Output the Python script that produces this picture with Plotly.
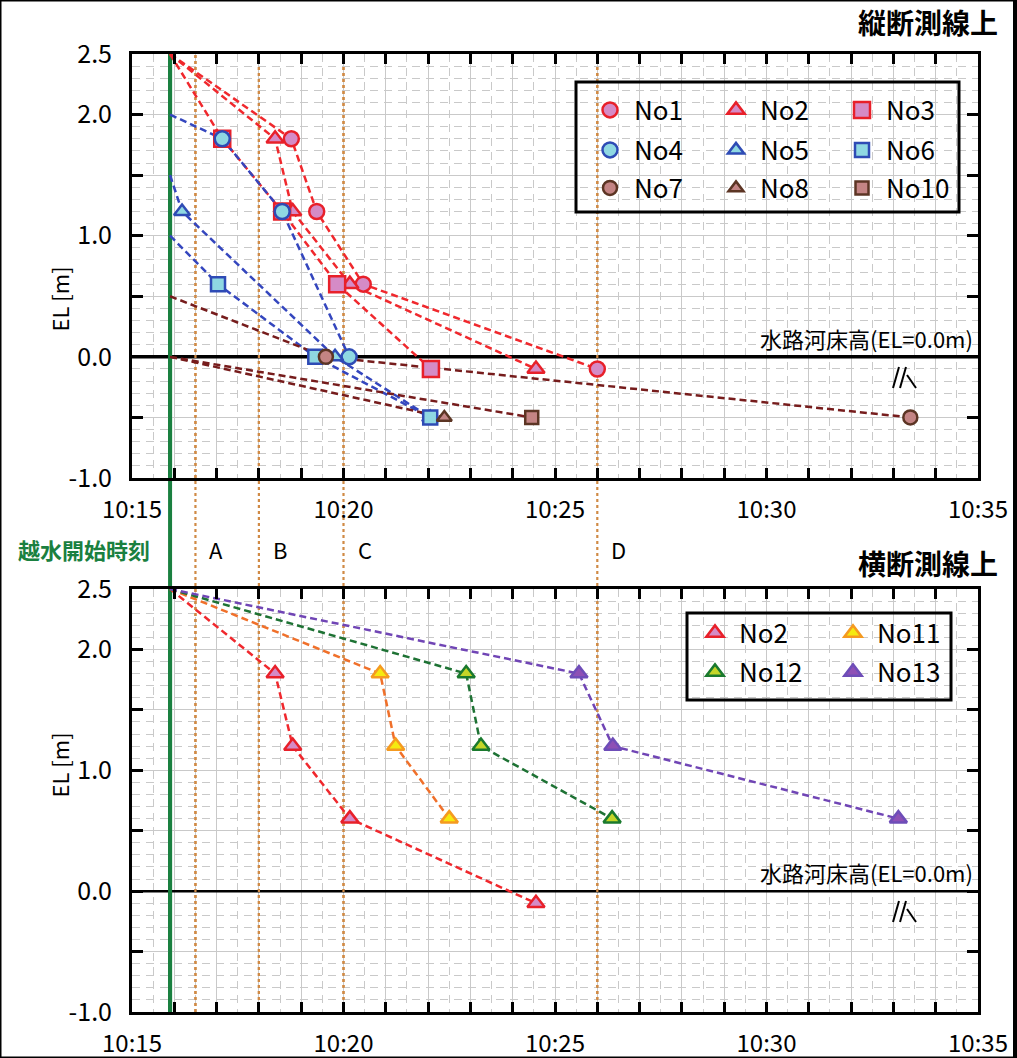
import plotly.graph_objects as go

W, H = 1017, 1058
DAY = "2000-01-01 "

# ---------------- data ----------------
overflow_start = "10:15:54"          # 越水開始時刻
ref_labels = ["A", "B", "C", "D"]
ref_times = ["10:16:30", "10:18:00", "10:20:00", "10:26:00"]

x_ticks = ["10:%02d" % m for m in range(15, 36)]
x_ticktext = [t if int(t[-2:]) % 5 == 0 else "" for t in x_ticks]
y_ticks = [-1.0, -0.5, 0.0, 0.5, 1.0, 1.5, 2.0, 2.5]
y_ticktext = ["-1.0", "", "0.0", "", "1.0", "", "2.0", "2.5"]

# 縦断測線上 (top panel)
no1_time = ["10:15:54", "10:18:46", "10:19:22", "10:20:28", "10:26:00"]
no1_el = [2.5, 1.8, 1.2, 0.6, -0.1]
no2_time = ["10:15:54", "10:18:23", "10:18:48", "10:20:09", "10:24:33"]
no2_el = [2.5, 1.8, 1.2, 0.6, -0.1]
no3_time = ["10:15:54", "10:17:08", "10:18:33", "10:19:51", "10:22:04"]
no3_el = [2.5, 1.8, 1.2, 0.6, -0.1]
no4_time = ["10:15:54", "10:17:08", "10:18:33", "10:20:08"]
no4_el = [2.0, 1.8, 1.2, 0.0]
no5_time = ["10:15:54", "10:16:11", "10:19:48", "10:22:03"]
no5_el = [1.5, 1.2, 0.0, -0.5]
no6_time = ["10:15:54", "10:17:02", "10:19:20", "10:22:03"]
no6_el = [1.0, 0.6, 0.0, -0.5]
no7_time = ["10:15:54", "10:19:35", "10:33:24"]
no7_el = [0.5, 0.0, -0.5]
no8_time = ["10:15:54", "10:22:23"]
no8_el = [0.0, -0.5]
no10_time = ["10:15:54", "10:24:27"]
no10_el = [0.0, -0.5]

# 横断測線上 (bottom panel)
no11_time = ["10:15:54", "10:20:52", "10:21:14", "10:22:30"]
no11_el = [2.5, 1.8, 1.2, 0.6]
no12_time = ["10:15:54", "10:22:54", "10:23:15", "10:26:21"]
no12_el = [2.5, 1.8, 1.2, 0.6]
no13_time = ["10:15:54", "10:25:34", "10:26:22", "10:33:07"]
no13_el = [2.5, 1.8, 1.2, 0.6]


def ts(lst):
    return [DAY + t for t in lst]


def px(x):
    return x / W


def py(y):
    return 1 - y / H


# ---------------- styles ----------------
RED = dict(line="#F0282D", fill="#D58BC6", edge="#E8202A")
BLUE = dict(line="#3446BE", fill="#8FD8E2", edge="#2E4BB5")
BROWN = dict(line="#761C1C", fill="#C48484", edge="#5C3524")
ORANGE = dict(line="#F0702A", fill="#F5EA10", edge="#F59A20")
GREEN = dict(line="#1E7234", fill="#C4D628", edge="#1A7A2E")
PURPLE = dict(line="#7045B5", fill="#8E50B5", edge="#6E4DB8")

series = [
    # name, time, el, symbol, colours, size, panel, legend
    ("No1", no1_time, no1_el, "circle", RED, 15, 1, "legend"),
    ("No2", no2_time, no2_el, "triangle-up", RED, 15, 1, "legend"),
    ("No3", no3_time, no3_el, "square", RED, 16, 1, "legend"),
    ("No4", no4_time, no4_el, "circle", BLUE, 15, 1, "legend2"),
    ("No5", no5_time, no5_el, "triangle-up", BLUE, 14, 1, "legend2"),
    ("No6", no6_time, no6_el, "square", BLUE, 14, 1, "legend2"),
    ("No7", no7_time, no7_el, "circle", BROWN, 14, 1, "legend3"),
    ("No8", no8_time, no8_el, "triangle-up", BROWN, 13, 1, "legend3"),
    ("No10", no10_time, no10_el, "square", BROWN, 13, 1, "legend3"),
    ("No2", no2_time, no2_el, "triangle-up", RED, 15, 2, "legend4"),
    ("No11", no11_time, no11_el, "triangle-up", ORANGE, 15, 2, "legend4"),
    ("No12", no12_time, no12_el, "triangle-up", GREEN, 15, 2, "legend5"),
    ("No13", no13_time, no13_el, "triangle-up", PURPLE, 15, 2, "legend5"),
]

FONT = "Noto Sans CJK JP"
fig = go.Figure()

# dashed lines first
for name, t, el, sym, c, size, panel, lg in series:
    fig.add_trace(go.Scatter(
        x=ts(t), y=el, mode="lines", showlegend=False, hoverinfo="skip",
        line=dict(color=c["line"], width=2.5, dash="7px,4px"),
        xaxis="x" if panel == 1 else "x2", yaxis="y" if panel == 1 else "y2"))

# markers (first point = overflow start, no marker)
for name, t, el, sym, c, size, panel, lg in series:
    fig.add_trace(go.Scatter(
        x=ts(t[1:]), y=el[1:], mode="markers", name=name, legend=lg,
        marker=dict(symbol=sym, size=size, color=c["fill"],
                    line=dict(color=c["edge"], width=2.5)),
        xaxis="x" if panel == 1 else "x2", yaxis="y" if panel == 1 else "y2"))

# ---------------- axes ----------------
XDOM = [px(132), px(978)]
TOP_DOM = [py(478), py(54)]
BOT_DOM = [py(1012), py(589)]
X_RANGE = [DAY + "10:15:00", DAY + "10:35:00"]
Y_RANGE = [-1.0, 2.5]

grid_col = "#C9C9C9"


def xaxis(anchor):
    return dict(
        domain=XDOM, anchor=anchor, type="date", automargin=False,
        range=X_RANGE,
        tickmode="array", tickvals=ts(x_ticks), ticktext=x_ticktext,
        ticks="inside", ticklen=10, tickwidth=3, tickcolor="black",
        showline=True, linecolor="black", linewidth=3, mirror="ticks",
        showgrid=True, gridcolor=grid_col, gridwidth=1,
        minor=dict(dtick=30000, tick0=DAY + "10:15:00", showgrid=True,
                   gridcolor=grid_col, griddash="8px,6px", gridwidth=1),
        tickfont=dict(family=FONT, size=24, color="black"),
        ticklabelstandoff=8, zeroline=False, fixedrange=True)


def yaxis(anchor, dom):
    return dict(
        domain=dom, anchor=anchor, range=Y_RANGE, automargin=False,
        tickmode="array", tickvals=y_ticks, ticktext=y_ticktext,
        ticks="inside", ticklen=11, tickwidth=3, tickcolor="black",
        showline=True, linecolor="black", linewidth=3, mirror="ticks",
        showgrid=True, gridcolor=grid_col, gridwidth=1,
        minor=dict(dtick=0.1, tick0=0, showgrid=True, gridcolor=grid_col,
                   griddash="8px,6px", gridwidth=1),
        tickfont=dict(family=FONT, size=25, color="black"),
        ticklabelstandoff=12, zeroline=False, fixedrange=True)


DOT = dict(color="#D08A45", width=2.2, dash="dot")
GRN = dict(color="#1A8040", width=4)

shapes = []
# river-bed level line EL = 0.0 (above grid, below traces)
for xr, yr, w in (("x", "y", 3.5), ("x2", "y2", 2.5)):
    shapes.append(dict(type="line", xref=xr, yref=yr, x0=X_RANGE[0], x1=X_RANGE[1],
                       y0=0, y1=0, line=dict(color="black", width=w),
                       layer="between"))
# reference time lines A-D and overflow start: inside each panel (above grid)
for xr, yr in (("x", "y"), ("x2", "y2")):
    for t in ref_times:
        shapes.append(dict(type="line", xref=xr, yref=yr, x0=DAY + t, x1=DAY + t,
                           y0=Y_RANGE[0], y1=Y_RANGE[1], line=DOT, layer="between"))
    shapes.append(dict(type="line", xref=xr, yref=yr,
                       x0=DAY + overflow_start, x1=DAY + overflow_start,
                       y0=Y_RANGE[0], y1=Y_RANGE[1], line=GRN, layer="between"))
# ... and through the gap between the panels
for t in ref_times:
    shapes.append(dict(type="line", xref="x", yref="paper", x0=DAY + t, x1=DAY + t,
                       y0=py(1012), y1=py(54), line=DOT, layer="below"))
shapes.append(dict(type="line", xref="x", yref="paper",
                   x0=DAY + overflow_start, x1=DAY + overflow_start,
                   y0=py(1015), y1=py(54), line=GRN, layer="below"))
# legend boxes
shapes.append(dict(type="rect", xref="paper", yref="paper", x0=px(576), x1=px(959),
                   y0=py(212), y1=py(82), line=dict(color="black", width=3),
                   layer="above"))
shapes.append(dict(type="rect", xref="paper", yref="paper", x0=px(687), x1=px(951),
                   y0=py(700), y1=py(613), line=dict(color="black", width=3),
                   layer="above"))
# axis break marks
for yc in (378, 912):
    for (xa, ya, xb, yb) in ((899, yc - 11, 893, yc + 10), (906, yc - 11, 900, yc + 10),
                             (907, yc - 3, 916, yc + 10)):
        shapes.append(dict(type="line", xref="paper", yref="paper",
                           x0=px(xa), y0=py(ya), x1=px(xb), y1=py(yb),
                           line=dict(color="black", width=2), layer="above"))
# outer frame
shapes.append(dict(type="rect", xref="paper", yref="paper", x0=0, x1=1, y0=0, y1=1,
                   line=dict(color="black", width=3), layer="above"))
shapes.append(dict(type="line", xref="paper", yref="paper", x0=px(1015), x1=px(1015),
                   y0=0, y1=1, line=dict(color="black", width=4), layer="above"))

ann = []
ann.append(dict(text="縦断測線上", xref="paper", yref="paper", x=px(1000), y=py(22),
                xanchor="right", yanchor="middle", showarrow=False,
                font=dict(family=FONT, size=28, color="black", weight="bold")))
ann.append(dict(text="横断測線上", xref="paper", yref="paper", x=px(1000), y=py(563),
                xanchor="right", yanchor="middle", showarrow=False,
                font=dict(family=FONT, size=28, color="black", weight="bold")))
for yr in ("y", "y2"):
    ann.append(dict(text="水路河床高(EL=0.0m)", xref="paper", yref=yr,
                    x=px(975), y=0.0, xanchor="right", yanchor="bottom", yshift=1,
                    showarrow=False, font=dict(family=FONT, size=22, color="black")))
for yc in (265, 800):
    ann.append(dict(text="EL [m]", xref="paper", yref="paper", x=px(40), y=py(yc),
                    textangle=-90, showarrow=False,
                    font=dict(family=FONT, size=22, color="black")))
ann.append(dict(text="越水開始時刻", xref="paper", yref="paper", x=px(152), y=py(549),
                xanchor="right", showarrow=False,
                font=dict(family=FONT, size=22, color="#1A8040", weight="bold")))
for lab, t in zip(ref_labels, ref_times):
    ann.append(dict(text=lab, xref="x", yref="paper", x=DAY + t, y=py(549),
                    xanchor="left", xshift=12, showarrow=False,
                    font=dict(family=FONT, size=22, color="black")))


def legend(xpx, ypx, ew):
    return dict(orientation="h", x=px(xpx), y=py(ypx), xanchor="left",
                yanchor="middle", entrywidth=ew, entrywidthmode="pixels",
                itemwidth=38,
                bgcolor="rgba(0,0,0,0)", borderwidth=0, itemclick=False,
                itemdoubleclick=False,
                font=dict(family=FONT, size=26, color="black"))


fig.update_layout(
    width=W, height=H, margin=dict(l=0, r=0, t=0, b=0, pad=0, autoexpand=False),
    paper_bgcolor="white", plot_bgcolor="rgba(0,0,0,0)",
    xaxis=xaxis("y"), yaxis=yaxis("x", TOP_DOM),
    xaxis2=xaxis("y2"), yaxis2=yaxis("x2", BOT_DOM),
    shapes=shapes, annotations=ann,
    legend=legend(586, 110, 73),
    legend2=legend(586, 150, 73),
    legend3=legend(586, 188, 73),
    legend4=legend(691, 633, 85),
    legend5=legend(691, 672, 85),
    font=dict(family=FONT),
)

fig.write_html(
    "out.html",
    config={"displayModeBar": False},
    post_script="document.body.style.margin='0';document.body.style.overflow='hidden';",
)
